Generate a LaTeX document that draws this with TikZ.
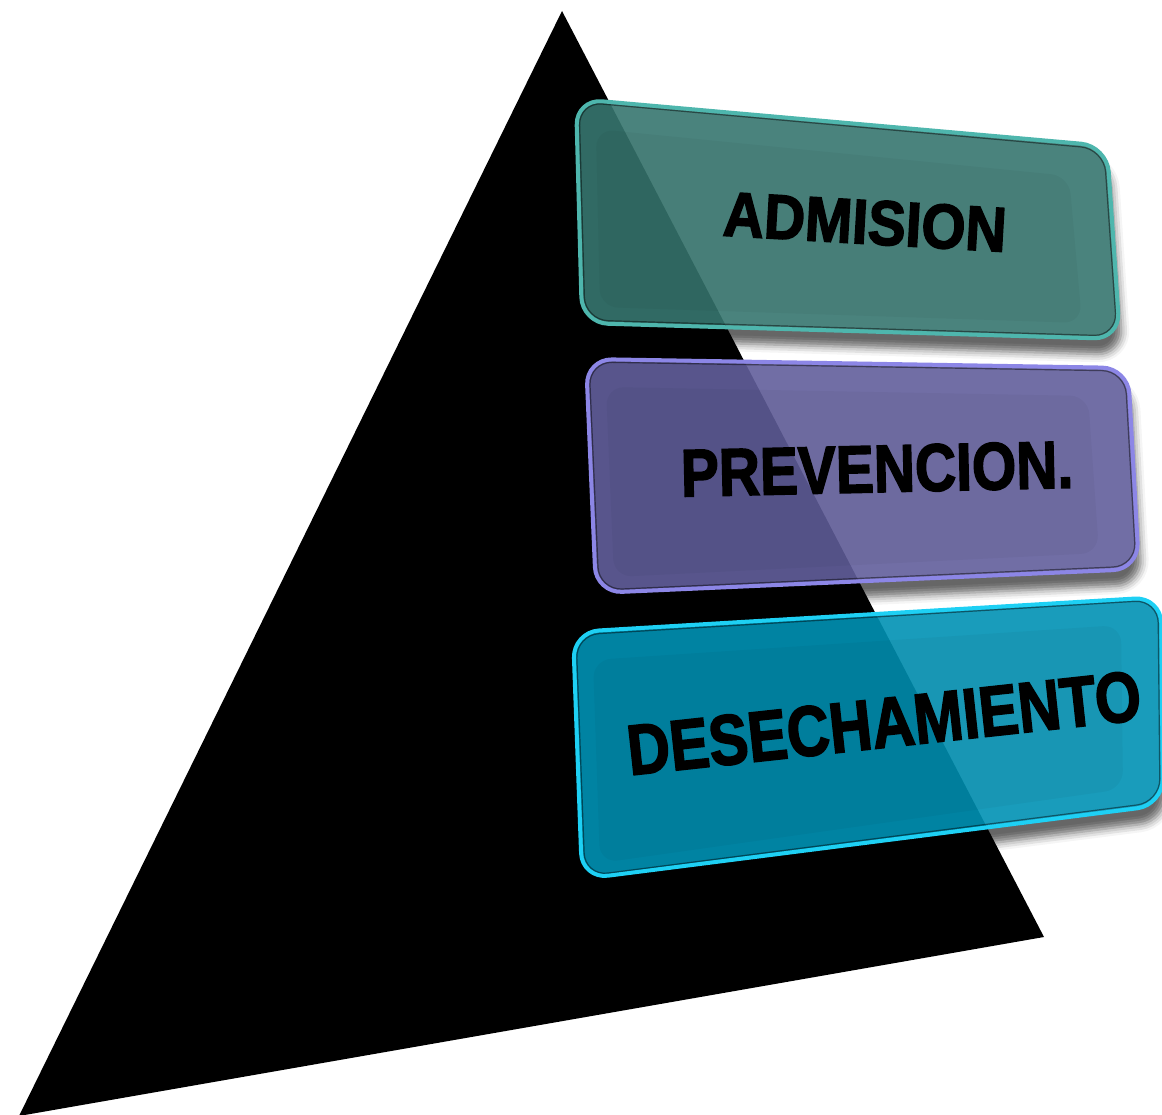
\documentclass[tikz,border=0pt]{standalone}
\usepackage{fontspec}
\setmainfont{Liberation Sans}
\newfontfamily\heavyfont{Liberation Sans}[UprightFont={* Bold}, UprightFeatures={FakeBold=2.5}]
\usetikzlibrary{shadows.blur}
\definecolor{tealF}{RGB}{55,118,111}
\definecolor{tealR}{RGB}{78,182,173}
\definecolor{purpF}{RGB}{98,95,156}
\definecolor{purpR}{RGB}{140,134,230}
\definecolor{cyanF}{RGB}{0,146,180}
\definecolor{cyanR}{RGB}{30,208,244}
\tikzset{
  glass/.style={rounded corners=26pt, fill=#1, fill opacity=0.9},
  blank/.style={rounded corners=26pt, fill=white},
  rim/.style={rounded corners=26pt, draw=#1, line width=4pt},
  edgeline/.style={rounded corners=23pt, draw=black, draw opacity=0.45, line width=1.2pt},
  bevel/.style={rounded corners=18pt, fill=black, fill opacity=0.035},
  dropshadow/.style={rounded corners=26pt, blur shadow={shadow xshift=3pt, shadow yshift=-16pt, shadow blur radius=8pt, shadow opacity=60}},
  lbl/.style={font=\heavyfont\fontsize{#1}{#1}\selectfont, text=black, inner sep=0pt}
}
\begin{document}
\begin{tikzpicture}[x=1pt,y=-1pt]
\useasboundingbox (0,0) rectangle (1162,1115);
% corners
\coordinate (a1) at (576,99);  \coordinate (a2) at (1107,146);
\coordinate (a3) at (1120,339); \coordinate (a4) at (582,323);
\coordinate (b1) at (586,359);  \coordinate (b2) at (1128,368);
\coordinate (b3) at (1139,569); \coordinate (b4) at (596,593);
\coordinate (c1) at (573,632);  \coordinate (c2) at (1161,597);
\coordinate (c3) at (1163,805); \coordinate (c4) at (582,879);

% shadows, then white under the boxes so shadows only show outside
\path[dropshadow] (a1) -- (a2) -- (a3) -- (a4) -- cycle;
\path[dropshadow] (b1) -- (b2) -- (b3) -- (b4) -- cycle;
\path[dropshadow] (c1) -- (c2) -- (c3) -- (c4) -- cycle;
\path[blank] (a1) -- (a2) -- (a3) -- (a4) -- cycle;
\path[blank] (b1) -- (b2) -- (b3) -- (b4) -- cycle;
\path[blank] (c1) -- (c2) -- (c3) -- (c4) -- cycle;

% pyramid
\coordinate (apex) at (562,11);
\coordinate (bl) at (19,1116);
\coordinate (br) at (1044,937);
\fill[black] (apex) -- (br) -- (bl) -- cycle;

% box 1
\path[glass=tealF] (a1) -- (a2) -- (a3) -- (a4) -- cycle;
\path[bevel] ([shift={(20,30)}]a1) -- ([shift={(-38,30)}]a2) -- ([shift={(-38,-16)}]a3) -- ([shift={(18,-16)}]a4) -- cycle;
\path[rim=tealR] (a1) -- (a2) -- (a3) -- (a4) -- cycle;
\path[edgeline] ([shift={(3,3)}]a1) -- ([shift={(-3,3)}]a2) -- ([shift={(-3,-3)}]a3) -- ([shift={(3,-3)}]a4) -- cycle;

% box 2
\path[glass=purpF] (b1) -- (b2) -- (b3) -- (b4) -- cycle;
\path[bevel] ([shift={(20,28)}]b1) -- ([shift={(-40,28)}]b2) -- ([shift={(-40,-16)}]b3) -- ([shift={(18,-16)}]b4) -- cycle;
\path[rim=purpR] (b1) -- (b2) -- (b3) -- (b4) -- cycle;
\path[edgeline] ([shift={(3,3)}]b1) -- ([shift={(-3,3)}]b2) -- ([shift={(-3,-3)}]b3) -- ([shift={(3,-3)}]b4) -- cycle;

% box 3
\path[glass=cyanF] (c1) -- (c2) -- (c3) -- (c4) -- cycle;
\path[bevel] ([shift={(20,28)}]c1) -- ([shift={(-40,28)}]c2) -- ([shift={(-40,-16)}]c3) -- ([shift={(18,-16)}]c4) -- cycle;
\path[rim=cyanR] (c1) -- (c2) -- (c3) -- (c4) -- cycle;
\path[edgeline] ([shift={(3,3)}]c1) -- ([shift={(-3,3)}]c2) -- ([shift={(-3,-3)}]c3) -- ([shift={(3,-3)}]c4) -- cycle;

% labels
\node[lbl=63, rotate=-3.3, xscale=0.90] (adm) at (865,222) {ADMISION};
\node[lbl=67, rotate=1.3, xscale=0.85] (prev) at (877,469) {PREVENCION.};
\node[lbl=71, rotate=6.2, xscale=0.83] (des) at (884,723) {DESECHAMIENTO};
\end{tikzpicture}
\end{document}
